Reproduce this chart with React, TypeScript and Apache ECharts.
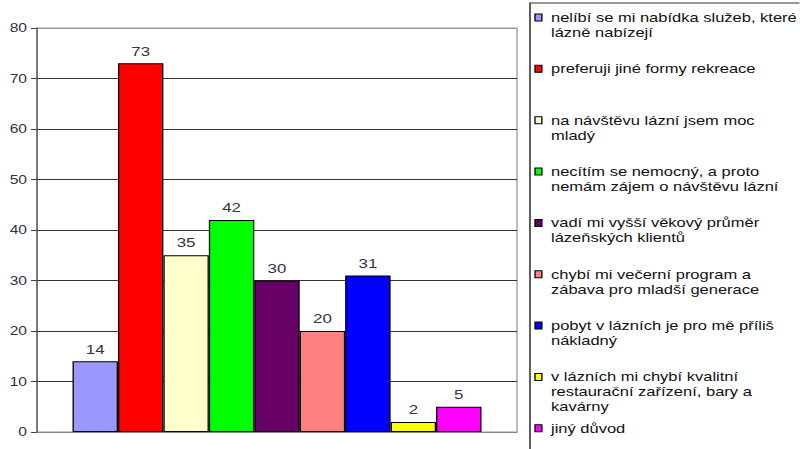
import React, { useEffect, useRef } from "react";
import * as echarts from "echarts";

// Survey answers: why respondents do not visit spa resorts
const reasons = [
  "nelíbí se mi nabídka služeb, které\nlázně nabízejí",
  "preferuji jiné formy rekreace",
  "na návštěvu lázní jsem moc\nmladý",
  "necítím se nemocný, a proto\nnemám zájem o návštěvu lázní",
  "vadí mi vyšší věkový průměr\nlázeňských klientů",
  "chybí mi večerní program a\nzábava pro mladší generace",
  "pobyt v lázních je pro mě příliš\nnákladný",
  "v lázních mi chybí kvalitní\nrestaurační zařízení, bary a\nkavárny",
  "jiný důvod",
];
const counts = [14, 73, 35, 42, 30, 20, 31, 2, 5];
const colors = [
  "#9999FF",
  "#FF0000",
  "#FFFFCC",
  "#00FF00",
  "#660066",
  "#FF8080",
  "#0000FF",
  "#FFFF00",
  "#FF00FF",
];
const yMin = 0;
const yMax = 80;
const yStep = 10;

// The chart is laid out in a narrower box and widened horizontally.
const SX = 1.3;
const W = 800 / SX;
const H = 449;
const FONT = "'Liberation Sans', Arial, sans-serif";

export default function App() {
  const ref = useRef<HTMLDivElement>(null);

  useEffect(() => {
    if (!ref.current) return;
    const chart = echarts.init(ref.current, null, { renderer: "svg" });

    const gridLeft = 37 / SX;
    const gridWidth = 480 / SX;
    const legendX = 530 / SX;
    const iconX = 535 / SX;
    const textX = 551 / SX;

    const nLines = (yMax - yMin) / yStep + 1;
    const splitColors: string[] = [];
    for (let i = 0; i < nLines; i++) {
      splitColors.push(i === 0 || i === nLines - 1 ? "#999999" : "#333333");
    }

    const legendItems: any[] = [];
    reasons.forEach((name, i) => {
      const cy = 17.5 + i * 51.35;
      legendItems.push({
        type: "rect",
        shape: { x: iconX, y: cy - 3.5, width: 5.3, height: 7 },
        style: { fill: colors[i], stroke: "#000", lineWidth: 1 },
      });
      legendItems.push({
        type: "text",
        x: textX,
        y: cy - 7.5,
        style: {
          text: name,
          font: `12.7px ${FONT}`,
          fill: "#111111",
          lineHeight: 15,
          verticalAlign: "top",
          align: "left",
        },
      });
    });

    chart.setOption({
      animation: false,
      backgroundColor: "#ffffff",
      grid: {
        left: gridLeft,
        top: 28,
        width: gridWidth,
        height: 404,
        show: true,
        borderColor: "#999999",
        borderWidth: 1,
        backgroundColor: "transparent",
      },
      xAxis: {
        type: "category",
        data: [""],
        axisLabel: { show: false },
        axisTick: { show: false },
        axisLine: { lineStyle: { color: "#888888", width: 1 } },
      },
      yAxis: {
        type: "value",
        min: yMin,
        max: yMax,
        interval: yStep,
        axisLine: { show: true, lineStyle: { color: "#555555", width: 1 } },
        axisTick: { show: true, length: 6 / SX, lineStyle: { color: "#444444" } },
        axisLabel: {
          margin: 10 / SX,
          color: "#333340",
          fontSize: 12,
          fontFamily: FONT,
        },
        splitLine: { show: true, lineStyle: { color: splitColors, width: 1 } },
      },
      series: reasons.map((name, i) => ({
        type: "bar",
        name,
        data: [counts[i]],
        barGap: "0%",
        barCategoryGap: "14.8%",
        itemStyle: { color: colors[i], borderColor: "#000000", borderWidth: 1 },
        label: {
          show: true,
          position: "top",
          distance: 6,
          color: "#333340",
          fontSize: 13,
          fontFamily: FONT,
        },
      })),
      graphic: [
        {
          type: "rect",
          shape: { x: legendX, y: 3, width: 300, height: 500 },
          style: { fill: "none", stroke: "#333333", lineWidth: 1.2 },
        },
        ...legendItems,
      ],
    });

    return () => chart.dispose();
  }, []);

  return (
    <div
      style={{
        position: "fixed",
        left: 0,
        top: 0,
        width: 800,
        height: H,
        overflow: "hidden",
        background: "#fff",
      }}
    >
      <div
        ref={ref}
        style={{
          width: W,
          height: H,
          transform: `scaleX(${SX})`,
          transformOrigin: "0 0",
        }}
      />
    </div>
  );
}
